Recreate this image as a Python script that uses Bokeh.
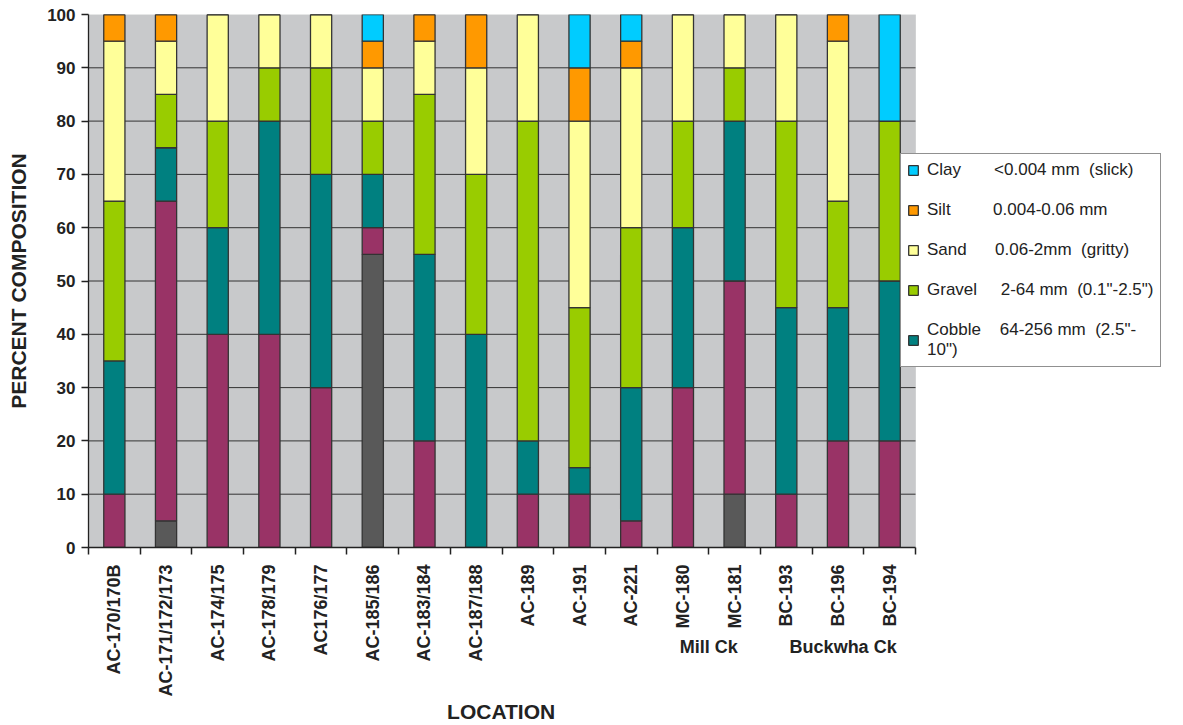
import math
from bokeh.plotting import figure
from bokeh.models import (Range1d, FixedTicker, Legend, LegendItem, LinearAxis,
                          ColumnDataSource, BoxAnnotation)
from bokeh.embed import file_html
from bokeh.resources import INLINE

locations = ["AC-170/170B", "AC-171/172/173", "AC-174/175", "AC-178/179", "AC176/177",
             "AC-185/186", "AC-183/184", "AC-187/188", "AC-189", "AC-191", "AC-221",
             "MC-180", "MC-181", "BC-193", "BC-196", "BC-194"]
bedrock = [0, 5, 0, 0, 0, 55, 0, 0, 0, 0, 0, 0, 10, 0, 0, 0]
boulder = [10, 60, 40, 40, 30, 5, 20, 0, 10, 10, 5, 30, 40, 10, 20, 20]
cobble = [25, 10, 20, 40, 40, 10, 35, 40, 10, 5, 25, 30, 30, 35, 25, 30]
gravel = [30, 10, 20, 10, 20, 10, 30, 30, 60, 30, 30, 20, 10, 35, 20, 30]
sand = [30, 10, 20, 10, 10, 10, 10, 20, 20, 35, 30, 20, 10, 20, 30, 0]
silt = [5, 5, 0, 0, 0, 5, 5, 10, 0, 10, 5, 0, 0, 0, 5, 0]
clay = [0, 0, 0, 0, 0, 5, 0, 0, 0, 10, 5, 0, 0, 0, 0, 20]
y_ticks = [0, 10, 20, 30, 40, 50, 60, 70, 80, 90, 100]
creek_names = ["Mill Ck", "Buckwha Ck"]
creek_pos = [12.0, 14.6]

layers = ["bedrock", "boulder", "cobble", "gravel", "sand", "silt", "clay"]
colors = ["#595959", "#993366", "#008080", "#99CC00", "#FFFF99", "#FF9900", "#00CCFF"]

n = len(locations)
xs = [i + 0.5 for i in range(n)]
src = ColumnDataSource(dict(x=xs, bedrock=bedrock, boulder=boulder, cobble=cobble,
                            gravel=gravel, sand=sand, silt=silt, clay=clay))

FONT = "Liberation Sans"
INK = "#222222"

# layout (pixels)
W, H = 1175, 725
LEFT, TOP, RIGHT, BOTTOM = 88, 14, 5, 178
PLOT_W = 827                       # width of the grey plotting area
FRAME_W = W - LEFT - RIGHT         # frame extends to the right to hold the legend
x_end = n * FRAME_W / PLOT_W

p = figure(width=W, height=H, output_backend="svg", toolbar_location=None,
           x_range=Range1d(0, x_end), y_range=Range1d(0, 100), x_axis_location=None,
           min_border_left=LEFT, min_border_top=TOP, min_border_right=RIGHT,
           min_border_bottom=BOTTOM)
p.background_fill_color = "white"
p.border_fill_color = "white"
p.outline_line_color = None
p.xgrid.grid_line_color = None
p.ygrid.grid_line_color = None

# grey plotting area
p.add_layout(BoxAnnotation(left=0, right=n, bottom=y_ticks[0], top=y_ticks[-1],
                           fill_color="#C8C9CB", fill_alpha=1.0,
                           line_color="#A8A8A8", line_width=1, level="underlay"))

# horizontal grid lines
gy = y_ticks[1:-1]
p.segment(x0=[0] * len(gy), x1=[n] * len(gy), y0=gy, y1=gy,
          line_color="#333333", line_width=1)

rs = p.vbar_stack(layers, x="x", width=0.41, source=src, color=colors,
                  line_color="#333333", line_width=1.3)

p.yaxis.ticker = FixedTicker(ticks=y_ticks)
p.yaxis.major_tick_out = 7
p.yaxis.major_tick_in = 0
p.yaxis.minor_tick_out = 0
p.yaxis.major_label_standoff = 6
p.yaxis.axis_line_color = INK
p.yaxis.axis_line_width = 1.3
p.yaxis.major_tick_line_color = INK
p.yaxis.major_tick_line_width = 1.3
p.yaxis.major_label_text_font = FONT
p.yaxis.major_label_text_font_style = "bold"
p.yaxis.major_label_text_font_size = "17px"
p.yaxis.major_label_text_color = INK
p.yaxis.axis_label = "PERCENT COMPOSITION"
p.yaxis.axis_label_text_font = FONT
p.yaxis.axis_label_text_font_style = "bold"
p.yaxis.axis_label_text_font_size = "21px"
p.yaxis.axis_label_text_color = INK
p.yaxis.axis_label_standoff = 14

# main x axis: boundary ticks + rotated location labels
xa = LinearAxis(ticker=FixedTicker(ticks=xs, minor_ticks=list(range(n + 1))), bounds=(0, n))
xa.major_label_overrides = {x: lab for x, lab in zip(xs, locations)}
xa.major_tick_out = 0
xa.major_tick_in = 0
xa.minor_tick_out = 7
xa.minor_tick_in = 0
xa.minor_tick_line_color = INK
xa.minor_tick_line_width = 1.5
xa.axis_line_color = INK
xa.axis_line_width = 1.3
xa.major_label_orientation = math.pi / 2
xa.major_label_standoff = 10
xa.major_label_text_font = FONT
xa.major_label_text_font_style = "bold"
xa.major_label_text_font_size = "18px"
xa.major_label_text_color = INK
p.add_layout(xa, "below")

# second x axis: creek group names + axis title
# (the title is padded with trailing no-break spaces so that it sits centred
#  under the grey plotting area rather than under the wider frame)
xb = LinearAxis(ticker=FixedTicker(ticks=creek_pos), bounds=(0, n))
xb.major_label_overrides = {x: lab for x, lab in zip(creek_pos, creek_names)}
xb.axis_line_color = None
xb.major_tick_line_color = None
xb.minor_tick_line_color = None
xb.major_tick_out = 0
xb.major_tick_in = 0
xb.minor_tick_out = 0
xb.minor_tick_in = 0
xb.major_label_orientation = "horizontal"
xb.major_label_standoff = -63
xb.major_label_text_font = FONT
xb.major_label_text_font_style = "bold"
xb.major_label_text_font_size = "18px"
xb.major_label_text_color = INK
xb.axis_label = "LOCATION" + "\u00a0" * 44
xb.axis_label_text_font = FONT
xb.axis_label_text_font_style = "bold"
xb.axis_label_text_font_size = "21px"
xb.axis_label_text_color = INK
xb.axis_label_standoff = 40
p.add_layout(xb, "below")

nb = "\u00a0"
legend_labels = [
    ("Clay" + nb * 7 + "<0.004 mm" + nb + " (slick)", rs[6]),
    ("Silt" + nb * 9 + "0.004-0.06 mm", rs[5]),
    ("Sand" + nb * 6 + "0.06-2mm" + nb + " (gritty)", rs[4]),
    ("Gravel" + nb * 5 + "2-64 mm" + nb + " (0.1\"-2.5\")", rs[3]),
    ("Cobble" + nb * 4 + "64-256 mm" + nb + " (2.5\"-\n10\")", rs[2]),
]
LEG_H = 212
frame_h = H - TOP - BOTTOM
legend = Legend(items=[LegendItem(label=l, renderers=[r]) for l, r in legend_labels],
                location=(900 - LEFT, frame_h - (155 - TOP) - LEG_H), orientation="vertical",
                label_text_font=FONT, label_text_font_size="17px", label_text_color=INK,
                glyph_width=12, glyph_height=12, label_standoff=8, label_height=20,
                spacing=20, padding=6, margin=0,
                border_line_color=INK, border_line_width=1,
                background_fill_color="white", background_fill_alpha=1.0)
p.add_layout(legend, "center")

open("out.html", "w").write(file_html(p, INLINE))
